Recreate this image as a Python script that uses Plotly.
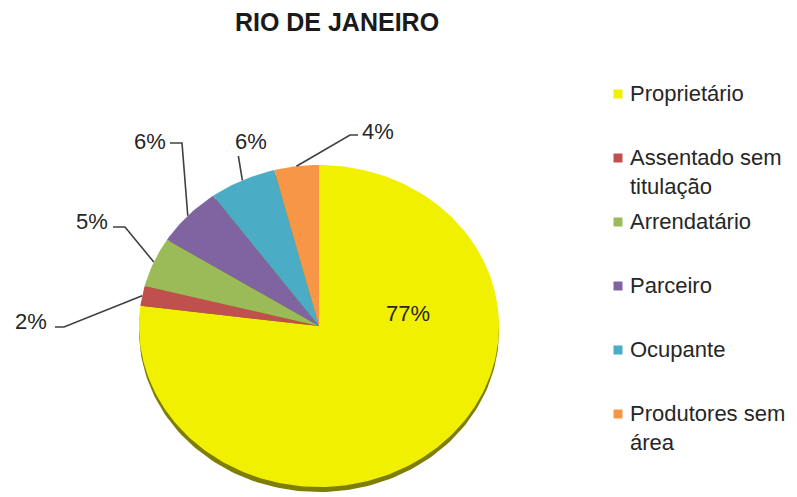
import math
import plotly.graph_objects as go

# Categories and shares (%)
categories = ["Proprietário", "Assentado sem titulação", "Arrendatário",
              "Parceiro", "Ocupante", "Produtores sem área"]
legend_labels = ["Proprietário", "Assentado sem<br>titulação", "Arrendatário",
                 "Parceiro", "Ocupante", "Produtores sem<br>área"]
shares = [77, 2, 5, 6, 6, 4]
colors = ["#F0F000", "#C0504D", "#9BBB59", "#8064A2", "#4BACC6", "#F79646"]
title_text = "RIO DE JANEIRO"

W, H = 797, 497
FONT = "Liberation Sans, Arial, sans-serif"
TEXT_COLOR = "#262626"

# Tilted (elliptical) pie geometry, in plot units = pixels
CX, CY, RX, RY = 319, 326, 180, 161
RIM_DEPTH = 5


def ellipse_arc(a0, a1, cy, n=120):
    steps = max(2, int(n * (a1 - a0) / (2 * math.pi)) + 2)
    xs, ys = [], []
    for k in range(steps + 1):
        a = a0 + (a1 - a0) * k / steps
        xs.append(CX + RX * math.sin(a))
        ys.append(cy - RY * math.cos(a))
    return xs, ys


fig = go.Figure()

# Side of the tilted pie, visible below the top face
rx_, ry_ = ellipse_arc(0, 2 * math.pi, CY + RIM_DEPTH, n=240)
fig.add_trace(go.Scatter(x=rx_, y=ry_, mode="lines", fill="toself",
                         fillcolor="#7E7E06", line=dict(width=0),
                         hoverinfo="skip", showlegend=False))

# Slices, clockwise from 12 o'clock
total = sum(shares)
cum = 0
mids = []
for name, v, col in zip(categories, shares, colors):
    a0 = cum / total * 2 * math.pi
    cum += v
    a1 = cum / total * 2 * math.pi
    mids.append((a0 + a1) / 2)
    ax_, ay_ = ellipse_arc(a0, a1, CY, n=360)
    fig.add_trace(go.Scatter(x=[CX] + ax_ + [CX], y=[CY] + ay_ + [CY],
                             mode="lines", fill="toself", fillcolor=col,
                             line=dict(width=0), name=name,
                             hovertemplate=f"{name}: {v}%<extra></extra>",
                             showlegend=False))

# Label placement: text centre and elbow points (pixels)
label_layout = [
    dict(text=(408, 313), elbow=None, inside=True),
    dict(text=(31, 321), elbow=[(64, 327), (55, 327)]),
    dict(text=(92, 221), elbow=[(125, 227), (113, 227)]),
    dict(text=(150, 141), elbow=[(182, 143), (170, 143)]),
    dict(text=(251, 141), elbow=None),
    dict(text=(378, 131), elbow=[(350, 135), (358, 135)]),
]

for v, mid, lay in zip(shares, mids, label_layout):
    ex = CX + RX * math.sin(mid)
    ey = CY - RY * math.cos(mid)
    tx, ty = lay["text"]
    fig.add_annotation(x=tx, y=ty, xref="x", yref="y", text=f"{v}%",
                       showarrow=False,
                       font=dict(family=FONT, size=22, color=TEXT_COLOR))
    if lay.get("inside"):
        continue
    if lay["elbow"] is None:
        pts = [(ex, ey), (ex - 4, ty + 15)]
    else:
        pts = [(ex, ey)] + lay["elbow"]
    path = "M " + " L ".join(f"{a},{b}" for a, b in pts)
    fig.add_shape(type="path", xref="x", yref="y", path=path,
                  line=dict(color="#404040", width=1.6))

# Legend beside the pie
LEG_X, LEG_Y0, LEG_STEP = 618, 94, 64
for i, (lab, col) in enumerate(zip(legend_labels, colors)):
    y = LEG_Y0 + i * LEG_STEP
    fig.add_shape(type="rect", xref="x", yref="y",
                  x0=LEG_X - 4.5, x1=LEG_X + 4.5, y0=y - 4.5, y1=y + 4.5,
                  fillcolor=col, line=dict(width=0))
    fig.add_annotation(x=LEG_X + 10, y=y - 15, xref="x", yref="y",
                       xanchor="left", yanchor="top", align="left",
                       text=lab, showarrow=False,
                       font=dict(family=FONT, size=22, color=TEXT_COLOR))

fig.update_layout(
    width=W, height=H,
    margin=dict(l=0, r=0, t=0, b=0),
    paper_bgcolor="white", plot_bgcolor="white",
    xaxis=dict(range=[0, W], visible=False, fixedrange=True),
    yaxis=dict(range=[H, 0], visible=False, fixedrange=True),
    title=dict(text=f"<b>{title_text}</b>", x=337 / W, xanchor="center",
               y=1 - 22 / H, yanchor="middle",
               font=dict(family=FONT, size=25, color="#1A1A1A")),
)

fig.write_html("out.html")
